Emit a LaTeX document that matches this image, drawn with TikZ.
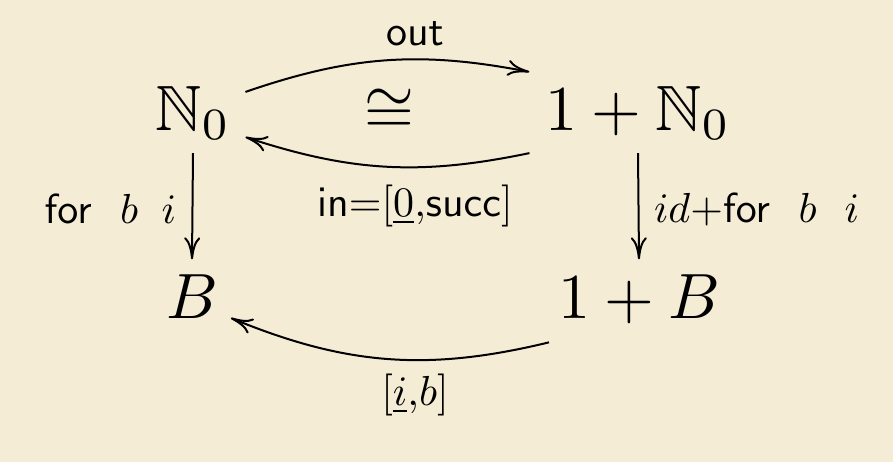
\documentclass[tikz,border=0pt]{standalone}
\usepackage{amssymb}
\usetikzlibrary{arrows.meta}
\definecolor{paper}{RGB}{244,236,213}
\begin{document}
\begin{tikzpicture}[x=0.5pt,y=-0.5pt,
  obj/.style={inner sep=0pt, outer sep=0pt, scale=3.2, transform shape},
  lbl/.style={inner sep=0pt, outer sep=0pt, scale=2.1, transform shape},
  arr/.style={line width=1pt, -{Computer Modern Rightarrow[length=11pt,width=8pt]}}]
\fill[paper] (0,0) rectangle (893,462);
\useasboundingbox (0,0) rectangle (893,462);
\node[obj,anchor=base] (n0) at (193,130) {$\mathbb{N}_0$};
\node[obj,anchor=base] (n1) at (638,130) {$1+\mathbb{N}_0$};
\node[obj,anchor=base] (nB) at (192,318) {$B$};
\node[obj,anchor=base] (n3) at (639,318) {$1+B$};
\node[obj,anchor=base] (iso) at (389,130) {$\cong$};
\node[lbl,anchor=base] (lout) at (415,45) {$\mathsf{out}$};
\node[lbl,anchor=base] (lin) at (415,216) {$\mathsf{in}{=}[\underline{0}{,}\mathsf{succ}]$};
\node[lbl,anchor=base east] (lfor) at (176,223) {$\mathsf{for}\ \ b\;\; i$};
\node[lbl,anchor=base west] (lid) at (654,222) {$id{+}\mathsf{for}\ \ b\ \ i$};
\node[lbl,anchor=base] (lib) at (415,405) {$[\underline{i}{,}b]$};
\draw[arr] ([shift={(15,6)}]n0.north east) to[bend left=15] ([shift={(-16,-14)}]n1.north west);
\draw[arr] ([shift={(-16,13.5)}]n1.south west) to[bend left=15] ([shift={(15,-2.5)}]n0.south east);
\draw[arr] ([shift={(0,13.5)}]n0.south) -- ([shift={(0,-15)}]nB.north);
\draw[arr] ([shift={(0,13.5)}]n1.south) -- ([shift={(0,-15)}]n3.north);
\draw[arr] ([shift={(-9,19)}]n3.south west) to[bend left=18] ([shift={(13,0)}]nB.south east);
\end{tikzpicture}
\end{document}
